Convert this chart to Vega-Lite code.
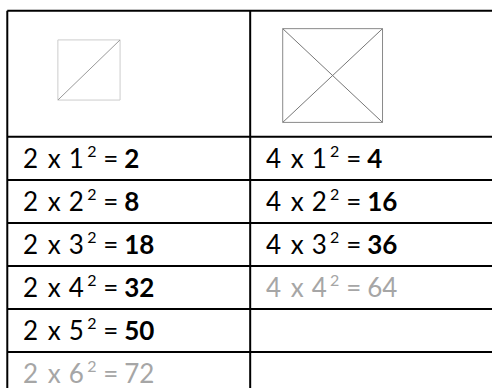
{
  "$schema": "https://vega.github.io/schema/vega-lite/v6.json",
  "width": 493,
  "height": 389,
  "autosize": {"type": "fit", "contains": "padding"},
  "padding": 0,
  "background": "#ffffff",
  "config": {"view": {"stroke": null}},
  "datasets": {
    "hlines": [
      {"r": -2.932, "u": 0, "u2": 1.9955},
      {"r": 0, "u": 0, "u2": 1.9955},
      {"r": 1, "u": 0, "u2": 1.9955},
      {"r": 2, "u": 0, "u2": 1.9955},
      {"r": 3, "u": 0, "u2": 1.9955},
      {"r": 4, "u": 0, "u2": 1.9955},
      {"r": 5, "u": 0, "u2": 1.9955}
    ],
    "vlines": [
      {"u": 0, "r": -2.932, "r2": 5.835},
      {"u": 1, "r": -2.932, "r2": 5.835}
    ],
    "squares": [
      {"name": "half", "u": 0.2083, "u2": 0.4643, "r": -2.2526, "r2": -0.8552, "cross": false},
      {"name": "quarter", "u": 1.1339, "u2": 1.5448, "r": -2.5145, "r2": -0.336, "cross": true}
    ],
    "cells": [
      {"u": 0, "r": 0, "coef": "2", "base": "1", "sup": "2", "res": "2", "tone": "normal"},
      {"u": 0, "r": 1, "coef": "2", "base": "2", "sup": "2", "res": "8", "tone": "normal"},
      {"u": 0, "r": 2, "coef": "2", "base": "3", "sup": "2", "res": "18", "tone": "normal"},
      {"u": 0, "r": 3, "coef": "2", "base": "4", "sup": "2", "res": "32", "tone": "normal"},
      {"u": 0, "r": 4, "coef": "2", "base": "5", "sup": "2", "res": "50", "tone": "normal"},
      {"u": 0, "r": 5, "coef": "2", "base": "6", "sup": "2", "res": "72", "tone": "faded"},
      {"u": 1, "r": 0, "coef": "4", "base": "1", "sup": "2", "res": "4", "tone": "normal"},
      {"u": 1, "r": 1, "coef": "4", "base": "2", "sup": "2", "res": "16", "tone": "normal"},
      {"u": 1, "r": 2, "coef": "4", "base": "3", "sup": "2", "res": "36", "tone": "normal"},
      {"u": 1, "r": 3, "coef": "4", "base": "4", "sup": "2", "res": "64", "tone": "faded"}
    ]
  },
  "encoding": {
    "x": {"field": "u", "type": "quantitative", "scale": {"domain": [-0.03, 1.9955], "nice": false, "zero": false}, "axis": null},
    "y": {"field": "r", "type": "quantitative", "scale": {"domain": [-3.18, 5.835], "nice": false, "zero": false, "reverse": true}, "axis": null}
  },
  "resolve": {"scale": {"color": "independent"}},
  "layer": [
    {
      "data": {"name": "hlines"},
      "mark": {"type": "rule", "color": "#000000", "strokeWidth": 2},
      "encoding": {"x2": {"field": "u2"}}
    },
    {
      "data": {"name": "vlines"},
      "mark": {"type": "rule", "color": "#000000", "strokeWidth": 2},
      "encoding": {"y2": {"field": "r2"}}
    },
    {
      "data": {"name": "squares"},
      "transform": [{"filter": "!datum.cross"}],
      "mark": {"type": "rect", "fill": null, "stroke": "#cccccc", "strokeWidth": 1},
      "encoding": {"x2": {"field": "u2"}, "y2": {"field": "r2"}}
    },
    {
      "data": {"name": "squares"},
      "transform": [{"filter": "datum.cross"}],
      "mark": {"type": "rect", "fill": null, "stroke": "#8a8a8a", "strokeWidth": 1},
      "encoding": {"x2": {"field": "u2"}, "y2": {"field": "r2"}}
    },
    {
      "data": {"name": "squares"},
      "transform": [{"filter": "!datum.cross"}],
      "mark": {"type": "rule", "strokeWidth": 1, "color": "#9a9a9a"},
      "encoding": {"y": {"field": "r2"}, "x2": {"field": "u2"}, "y2": {"field": "r"}}
    },
    {
      "data": {"name": "squares"},
      "transform": [{"filter": "datum.cross"}],
      "mark": {"type": "rule", "strokeWidth": 1, "color": "#777777"},
      "encoding": {"y": {"field": "r2"}, "x2": {"field": "u2"}, "y2": {"field": "r"}}
    },
    {
      "data": {"name": "squares"},
      "transform": [{"filter": "datum.cross"}],
      "mark": {"type": "rule", "strokeWidth": 1, "color": "#777777"},
      "encoding": {"x2": {"field": "u2"}, "y2": {"field": "r2"}}
    },
    {
      "data": {"name": "cells"},
      "layer": [
        {
          "mark": {"type": "text", "font": "Lato", "fontSize": 26, "align": "center", "baseline": "alphabetic", "dx": 23.3, "dy": 30.7},
          "encoding": {"text": {"field": "coef"}}
        },
        {
          "mark": {"type": "text", "font": "Lato", "fontSize": 26, "align": "center", "baseline": "alphabetic", "dx": 47, "dy": 30.7},
          "encoding": {"text": {"value": "x"}}
        },
        {
          "mark": {"type": "text", "font": "Lato", "fontSize": 26, "align": "center", "baseline": "alphabetic", "dx": 69, "dy": 30.7},
          "encoding": {"text": {"field": "base"}}
        },
        {
          "mark": {"type": "text", "font": "Lato", "fontSize": 16, "align": "center", "baseline": "alphabetic", "dx": 84.5, "dy": 20},
          "encoding": {"text": {"field": "sup"}}
        },
        {
          "mark": {"type": "text", "font": "Lato", "fontSize": 26, "align": "center", "baseline": "alphabetic", "dx": 103.5, "dy": 30.7},
          "encoding": {"text": {"value": "="}}
        },
        {
          "transform": [{"filter": "datum.tone == 'normal'"}],
          "mark": {"type": "text", "font": "Lato", "fontSize": 26, "fontWeight": "bold", "align": "left", "baseline": "alphabetic", "dx": 117, "dy": 30.7},
          "encoding": {"text": {"field": "res"}}
        },
        {
          "transform": [{"filter": "datum.tone == 'faded'"}],
          "mark": {"type": "text", "font": "Lato", "fontSize": 26, "align": "left", "baseline": "alphabetic", "dx": 117, "dy": 30.7},
          "encoding": {"text": {"field": "res"}}
        }
      ],
      "encoding": {
        "color": {"field": "tone", "type": "nominal", "scale": {"domain": ["normal", "faded"], "range": ["#000000", "#a6a6a6"]}, "legend": null}
      }
    }
  ]
}
